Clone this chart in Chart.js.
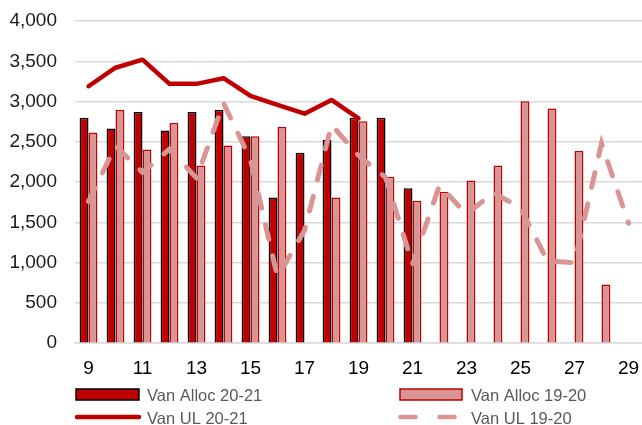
<!DOCTYPE html>
<html>
<head>
<meta charset="utf-8">
<script src="https://cdn.jsdelivr.net/npm/chart.js@4/dist/chart.umd.min.js"></script>
<style>
  html, body { margin: 0; padding: 0; background: #fff; }
  #box { width: 642px; height: 425px; }
</style>
</head>
<body>
<div id="box"><canvas id="myChart" width="642" height="425"></canvas></div>
<script>
// weeks on the x axis
var weeks = ["9","10","11","12","13","14","15","16","17","18","19","20","21","22","23","24","25","26","27","28","29"];
var yTicks = [0, 500, 1000, 1500, 2000, 2500, 3000, 3500, 4000];

var allocNow = [2800, 2665, 2870, 2640, 2870, 2895, 2570, 1810, 2365, 2525, 2800, 2800, 1925,
  null, null, null, null, null, null, null, null];
var allocPrev = [2615, 2895, 2405, 2735, 2205, 2455, 2570, 2685, null, 1810, 2755, 2065, 1770,
  1880, 2020, 2205, 3005, 2915, 2385, 730, null];
var ulNow = [3190, 3420, 3520, 3220, 3220, 3290, 3070, 2960, 2850, 3020, 2790,
  null, null, null, null, null, null, null, null, null, null];
var ulPrev = [1760, 2450, 2120, 2410, 2050, 2980, 2280, 820, 1400, 2710, 2330, 2060, 980,
  1960, 1600, 1870, 1680, 1020, 1000, 2480, 1490];

var names = ["Van Alloc 20-21", "Van Alloc 19-20", "Van UL 20-21", "Van UL 19-20"];

var darkRed = "#C00000";
var pink = "#D99594";
var FONT = "'Liberation Sans', Arial, sans-serif";

// legend drawn by hand so the two columns line up like the original
var legendBox = {
  id: "legendBox",
  afterDraw: function(chart) {
    var ctx = chart.ctx;
    var ds = chart.data.datasets;
    ctx.save();
    ctx.font = "16.5px " + FONT;
    ctx.textBaseline = "alphabetic";

    // row 1 : bars
    ctx.lineWidth = 1.5;
    ctx.fillStyle = ds[0].backgroundColor;
    ctx.fillRect(76, 389, 63, 11);
    ctx.strokeStyle = ds[0].borderColor;
    ctx.strokeRect(76, 389, 63, 11);
    ctx.fillStyle = ds[1].backgroundColor;
    ctx.fillRect(400, 389, 62, 11);
    ctx.strokeStyle = ds[1].borderColor;
    ctx.strokeRect(400, 389, 62, 11);

    ctx.fillStyle = "#595959";
    ctx.fillText(ds[0].label, 147, 401);
    ctx.fillText(ds[1].label, 471, 401);

    // row 2 : lines
    ctx.lineCap = "round";
    ctx.lineWidth = 4.5;
    ctx.strokeStyle = ds[2].borderColor;
    ctx.beginPath();
    ctx.moveTo(77, 417);
    ctx.lineTo(139, 417);
    ctx.stroke();

    ctx.strokeStyle = ds[3].borderColor;
    ctx.setLineDash([15, 24]);
    ctx.beginPath();
    ctx.moveTo(400.5, 417);
    ctx.lineTo(455.5, 417);
    ctx.stroke();
    ctx.setLineDash([]);

    ctx.fillText(ds[2].label, 147, 424);
    ctx.fillText(ds[3].label, 471, 424);
    ctx.restore();
  }
};

new Chart("myChart", {
  type: "bar",
  data: {
    labels: weeks,
    datasets: [
      {
        label: names[0],
        data: allocNow,
        backgroundColor: darkRed,
        borderColor: "#000000",
        borderWidth: 1.5,
        order: 2
      },
      {
        label: names[1],
        data: allocPrev,
        backgroundColor: pink,
        borderColor: darkRed,
        borderWidth: 1.5,
        order: 2
      },
      {
        type: "line",
        label: names[2],
        data: ulNow,
        borderColor: darkRed,
        borderWidth: 4.5,
        pointRadius: 0,
        tension: 0,
        fill: false,
        borderCapStyle: "round",
        borderJoinStyle: "round",
        order: 0
      },
      {
        type: "line",
        label: names[3],
        data: ulPrev,
        borderColor: pink,
        borderWidth: 5,
        borderDash: [15, 17],
        pointRadius: 0,
        tension: 0,
        fill: false,
        borderCapStyle: "round",
        order: 1
      }
    ]
  },
  options: {
    responsive: false,
    animation: false,
    devicePixelRatio: 1,
    categoryPercentage: 0.66,
    barPercentage: 1.0,
    layout: { padding: { left: 10, right: 0, top: 21, bottom: 31 } },
    plugins: {
      legend: { display: false },
      tooltip: { enabled: false }
    },
    scales: {
      x: {
        offset: true,
        grid: { display: false, drawTicks: false },
        border: { display: true, color: "#d9d9d9", width: 1.5 },
        ticks: {
          autoSkip: false,
          maxRotation: 0,
          padding: 14,
          color: "#000000",
          font: { family: FONT, size: 19 },
          callback: function(val, i) {
            return i % 2 === 0 ? weeks[i] : "";
          }
        },
        afterFit: function(axis) {
          axis.paddingLeft = 0;
          axis.paddingRight = 0;
        }
      },
      y: {
        min: yTicks[0],
        max: yTicks[yTicks.length - 1],
        afterBuildTicks: function(axis) {
          axis.ticks = yTicks.map(function(v) { return { value: v }; });
        },
        afterFit: function(axis) {
          axis.width = 65;
          axis.paddingTop = 0;
          axis.paddingBottom = 0;
        },
        grid: { color: "#d9d9d9", lineWidth: 1.5, drawTicks: false },
        border: { display: false },
        ticks: {
          padding: 18,
          color: "#1a1a1a",
          font: { family: FONT, size: 19 },
          callback: function(v) { return v.toLocaleString("en-US"); }
        }
      }
    }
  },
  plugins: [legendBox]
});
</script>
</body>
</html>
